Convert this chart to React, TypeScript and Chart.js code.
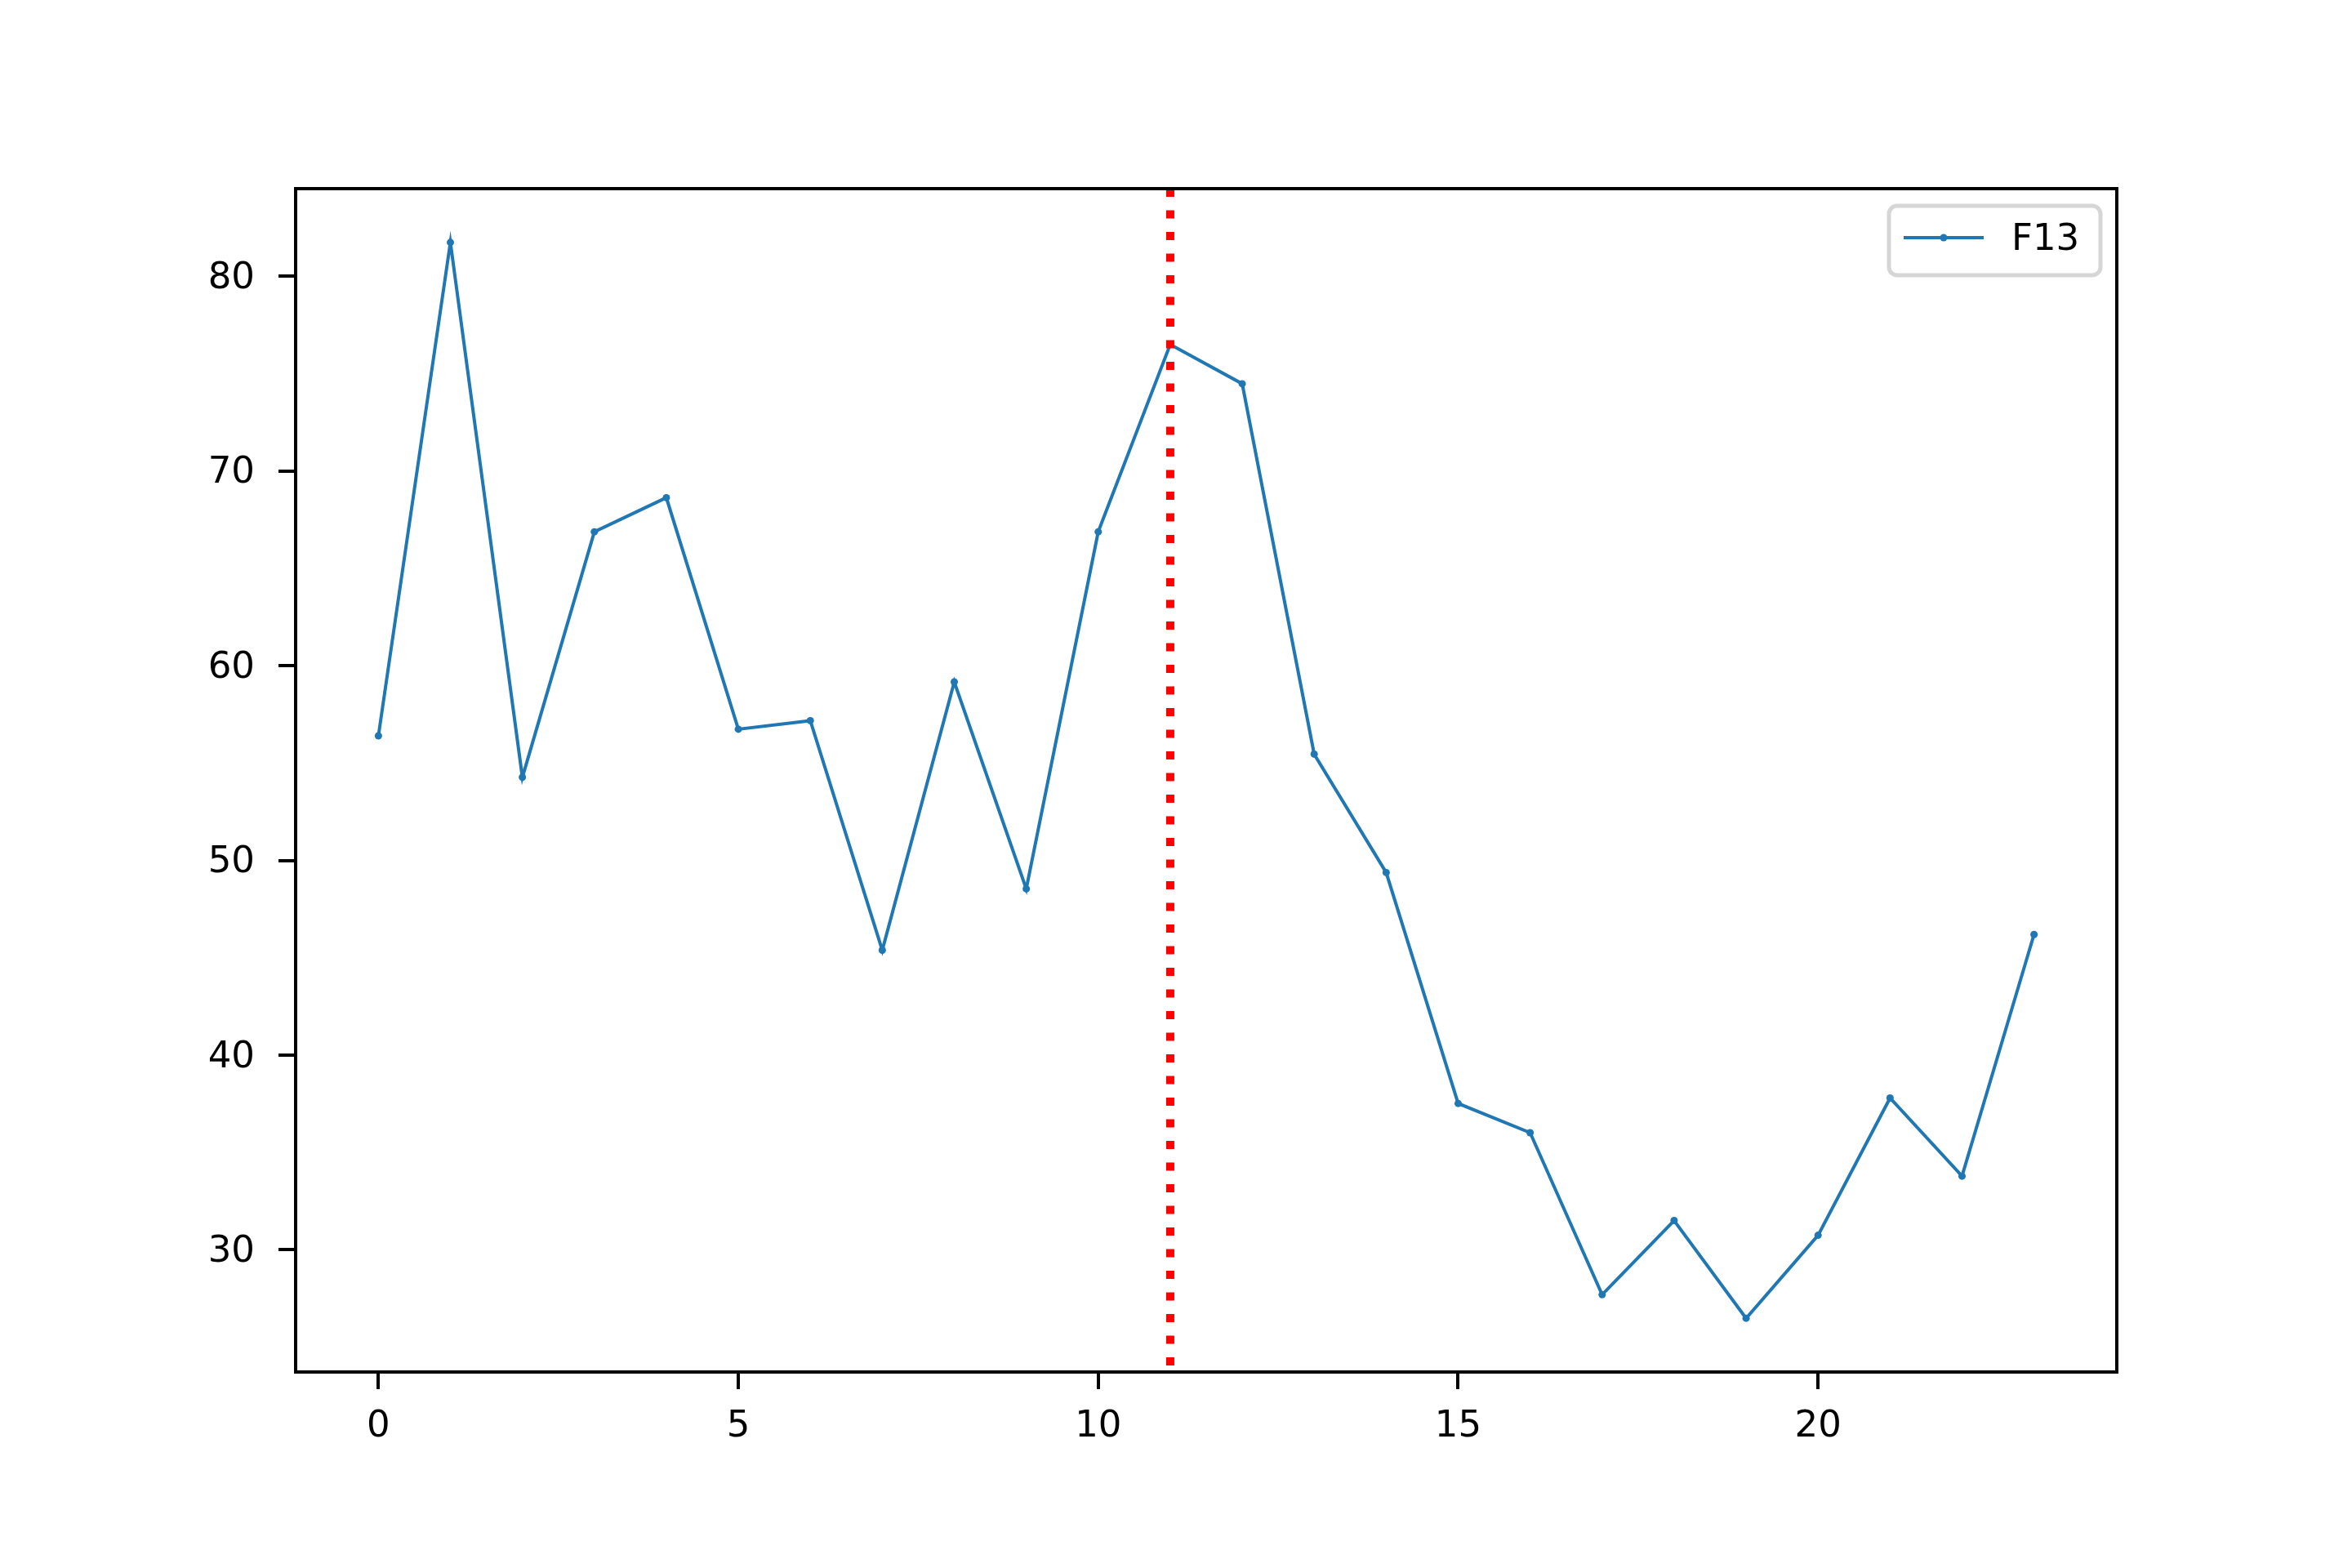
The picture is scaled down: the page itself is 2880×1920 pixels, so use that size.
import React, { useEffect, useRef } from "react";
import { Chart, registerables } from "chart.js";

Chart.register(...registerables);

const X_VALUES = [0, 1, 2, 3, 4, 5, 6, 7, 8, 9, 10, 11, 12, 13, 14, 15, 16, 17, 18, 19, 20, 21, 22, 23];
const F13_VALUES = [
  56.4, 81.74, 54.27, 66.88, 68.63, 56.74, 57.18, 45.39, 59.17, 48.54, 66.88, 76.5,
  74.48, 55.46, 49.38, 37.52, 36.02, 27.7, 31.51, 26.49, 30.75, 37.8, 33.79, 46.2,
];
const SERIES_LABEL = "F13";
const X_TICKS = [0, 5, 10, 15, 20];
const Y_TICKS = [30, 40, 50, 60, 70, 80];
const VLINE_X = 11;

const BLUE = "#1f77b4";
const FONT = "'DejaVu Sans', 'Liberation Sans', sans-serif";
const FONT_SIZE = 45;

export default function App() {
  const ref = useRef<HTMLCanvasElement | null>(null);

  useEffect(() => {
    const canvas = ref.current;
    if (!canvas) return;

    const vlinePlugin = {
      id: "vline",
      afterDatasetsDraw(chart: any) {
        const { ctx, chartArea, scales } = chart;
        const x = scales.x.getPixelForValue(VLINE_X);
        ctx.save();
        ctx.strokeStyle = "#ff0000";
        ctx.lineWidth = 10;
        ctx.lineCap = "butt";
        ctx.setLineDash([10, 16.5]);
        ctx.beginPath();
        ctx.moveTo(x, chartArea.top);
        ctx.lineTo(x, chartArea.bottom);
        ctx.stroke();
        ctx.restore();
      },
    };

    const framePlugin = {
      id: "frame",
      afterDraw(chart: any) {
        const { ctx, chartArea } = chart;
        ctx.save();
        ctx.strokeStyle = "#000000";
        ctx.lineWidth = 4;
        ctx.setLineDash([]);
        ctx.strokeRect(chartArea.left, chartArea.top, chartArea.right - chartArea.left, chartArea.bottom - chartArea.top);

        // legend
        const bx = chartArea.right - 279;
        const by = chartArea.top + 21;
        const bw = 259;
        const bh = 85;
        const r = 10;
        ctx.beginPath();
        ctx.moveTo(bx + r, by);
        ctx.lineTo(bx + bw - r, by);
        ctx.arcTo(bx + bw, by, bx + bw, by + r, r);
        ctx.lineTo(bx + bw, by + bh - r);
        ctx.arcTo(bx + bw, by + bh, bx + bw - r, by + bh, r);
        ctx.lineTo(bx + r, by + bh);
        ctx.arcTo(bx, by + bh, bx, by + bh - r, r);
        ctx.lineTo(bx, by + r);
        ctx.arcTo(bx, by, bx + r, by, r);
        ctx.closePath();
        ctx.fillStyle = "rgba(255,255,255,0.8)";
        ctx.fill();
        ctx.strokeStyle = "#d6d6d6";
        ctx.lineWidth = 5;
        ctx.stroke();

        const ly = by + 39;
        ctx.strokeStyle = BLUE;
        ctx.lineWidth = 4;
        ctx.beginPath();
        ctx.moveTo(bx + 18, ly);
        ctx.lineTo(bx + 116, ly);
        ctx.stroke();
        ctx.fillStyle = BLUE;
        ctx.beginPath();
        ctx.arc(bx + 67, ly, 4.5, 0, Math.PI * 2);
        ctx.fill();

        ctx.fillStyle = "#000000";
        ctx.font = `${FONT_SIZE}px ${FONT}`;
        ctx.textAlign = "left";
        ctx.textBaseline = "middle";
        ctx.fillText(chart.data.datasets[0].label, bx + 150, ly + 3);
        ctx.restore();
      },
    };

    const chart = new Chart(canvas, {
      type: "line",
      data: {
        datasets: [
          {
            label: SERIES_LABEL,
            data: X_VALUES.map((x, i) => ({ x, y: F13_VALUES[i] })),
            borderColor: BLUE,
            backgroundColor: BLUE,
            borderWidth: 4,
            pointRadius: 4.5,
            pointBorderWidth: 0,
            pointBackgroundColor: BLUE,
            tension: 0,
            fill: false,
          },
        ],
      },
      options: {
        animation: false,
        responsive: false,
        devicePixelRatio: 1,
        layout: { padding: { left: 0, right: 288, top: 231, bottom: 0 } },
        plugins: {
          legend: { display: false },
          tooltip: { enabled: false },
        },
        scales: {
          x: {
            type: "linear",
            min: -1.15,
            max: 24.15,
            afterBuildTicks: (scale: any) => {
              scale.ticks = X_TICKS.map((v) => ({ value: v }));
            },
            afterFit: (scale: any) => {
              scale.height = 240;
            },
            border: { display: false },
            grid: {
              display: true,
              drawOnChartArea: false,
              drawTicks: true,
              tickLength: 21,
              color: "#000000",
              lineWidth: 4,
            },
            ticks: {
              color: "#000000",
              font: { family: FONT, size: FONT_SIZE },
              padding: 19,
              maxRotation: 0,
              callback: (v: any) => String(v),
            },
          },
          y: {
            type: "linear",
            min: 23.73,
            max: 84.5,
            afterBuildTicks: (scale: any) => {
              scale.ticks = Y_TICKS.map((v) => ({ value: v }));
            },
            afterFit: (scale: any) => {
              scale.width = 362;
            },
            border: { display: false },
            grid: {
              display: true,
              drawOnChartArea: false,
              drawTicks: true,
              tickLength: 21,
              color: "#000000",
              lineWidth: 4,
            },
            ticks: {
              color: "#000000",
              font: { family: FONT, size: FONT_SIZE },
              padding: 29,
              labelOffset: 3,
              callback: (v: any) => String(v),
            },
          },
        },
      },
      plugins: [vlinePlugin, framePlugin],
    });

    return () => chart.destroy();
  }, []);

  return (
    <div style={{ position: "absolute", left: 0, top: 0, width: 2880, height: 1920, background: "#ffffff" }}>
      <canvas ref={ref} width={2880} height={1920} style={{ display: "block", width: 2880, height: 1920 }} />
    </div>
  );
}
